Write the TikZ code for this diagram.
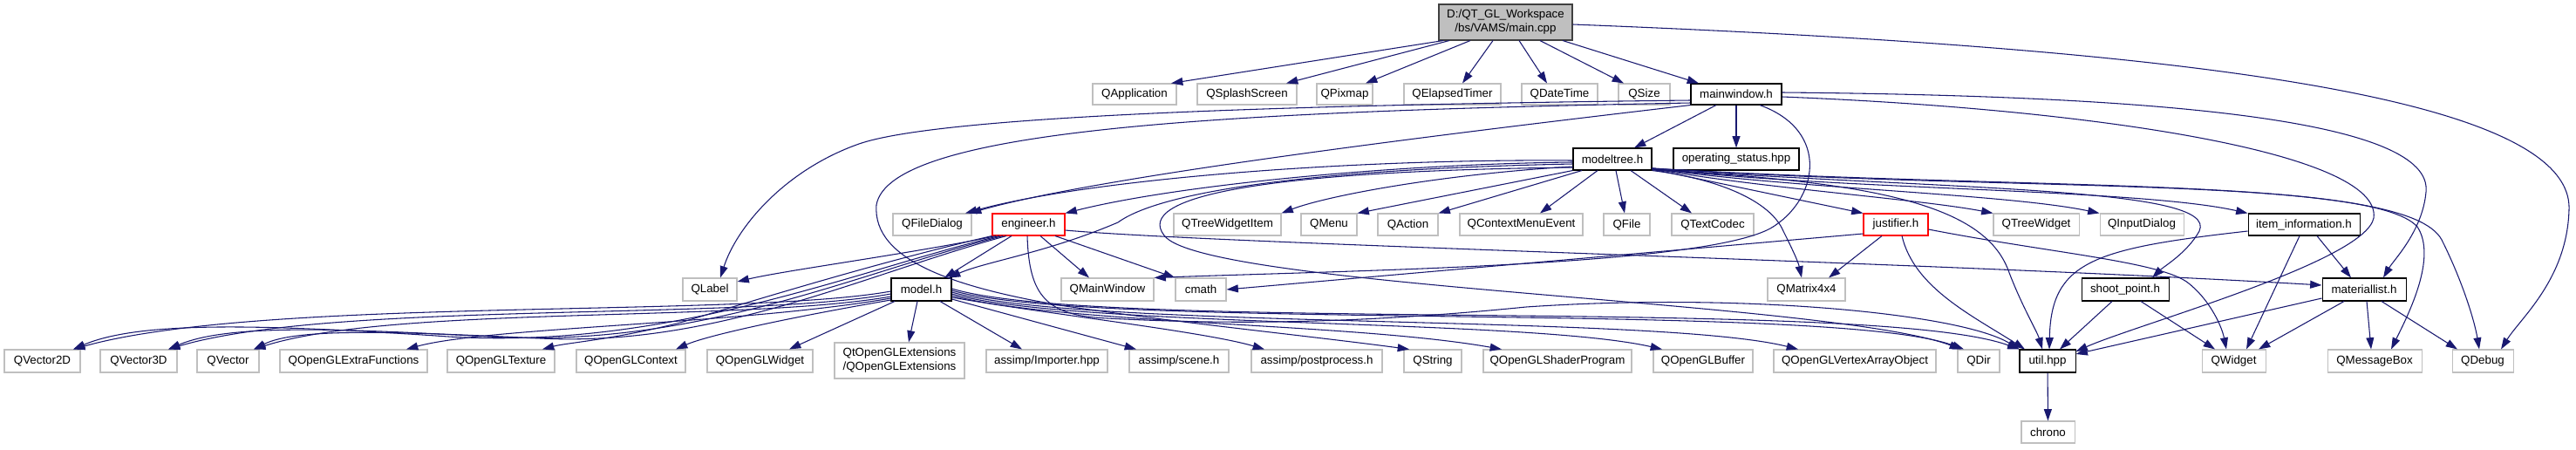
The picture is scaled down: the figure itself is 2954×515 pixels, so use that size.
\documentclass[tikz,border=0pt]{standalone}
\usepackage{fontspec}
\setmainfont{Liberation Sans}
\usetikzlibrary{arrows.meta}
\definecolor{edgeblue}{HTML}{191970}
\definecolor{extgray}{HTML}{BFBFBF}
\definecolor{rootfill}{HTML}{BFBFBF}
\definecolor{rootline}{HTML}{404040}
\newcommand\nd[7]{\node[#6,minimum width={(#3-#2)*0.75pt},minimum height={(#5-#4)*0.75pt}] (#1) at ({(#2+#3)/2},{(#4+#5)/2}) {#7};}
\tikzset{
  nBase/.style={rectangle, draw, line width=0.8pt, inner sep=0pt, fill=white, text=black, align=center, font=\fontsize{10}{12}\selectfont},
  nExt/.style={nBase, draw=extgray},
  nDoc/.style={nBase, draw=black},
  nTrunc/.style={nBase, draw=red},
  nRoot/.style={nBase, draw=rootline, fill=rootfill},
  edg/.style={draw=edgeblue, line width=0.8pt, -{Triangle[length=10pt,width=6.7pt]}}
}
\begin{document}
\begin{tikzpicture}[x=0.75pt,y=-0.75pt]
\fill[white] (0,0) rectangle (2954,515);
\useasboundingbox (0,0) rectangle (2954,515);
% nodes
\nd{main}{1650}{1803}{5}{46}{nRoot}{D:/QT\_GL\_Workspace\\/bs/VAMS/main.cpp}
\nd{qapp}{1253}{1349}{96}{120}{nExt}{QApplication}
\nd{qsplash}{1373}{1487}{96}{120}{nExt}{QSplashScreen}
\nd{qpixmap}{1510}{1574}{96}{120}{nExt}{QPixmap}
\nd{qelapsed}{1610}{1721}{96}{120}{nExt}{QElapsedTimer}
\nd{qdatetime}{1745}{1832}{96}{120}{nExt}{QDateTime}
\nd{qsize}{1856}{1915}{96}{120}{nExt}{QSize}
\nd{mainwin}{1939}{2043}{96}{120}{nDoc}{mainwindow.h}
\nd{modeltree}{1804}{1894}{170}{195}{nDoc}{modeltree.h}
\nd{opstatus}{1919}{2063}{170}{195}{nDoc}{operating\_status.hpp}
\nd{qfiledialog}{1024}{1114}{245}{270}{nExt}{QFileDialog}
\nd{engineer}{1138}{1221}{245}{270}{nTrunc}{engineer.h}
\nd{qtwi}{1346}{1469}{245}{270}{nExt}{QTreeWidgetItem}
\nd{qmenu}{1492}{1556}{245}{270}{nExt}{QMenu}
\nd{qaction}{1580}{1649}{245}{270}{nExt}{QAction}
\nd{qcme}{1674}{1815}{245}{270}{nExt}{QContextMenuEvent}
\nd{qfile}{1839}{1892}{245}{270}{nExt}{QFile}
\nd{qtextcodec}{1917}{2011}{245}{270}{nExt}{QTextCodec}
\nd{justifier}{2137}{2211}{245}{270}{nTrunc}{justifier.h}
\nd{qtreewidget}{2286}{2384}{245}{270}{nExt}{QTreeWidget}
\nd{qinputdialog}{2408}{2504}{245}{270}{nExt}{QInputDialog}
\nd{iteminfo}{2578}{2706}{245}{270}{nDoc}{item\_information.h}
\nd{qlabel}{783}{845}{319}{345}{nExt}{QLabel}
\nd{model}{1022}{1091}{319}{345}{nDoc}{model.h}
\nd{qmainwindow}{1217}{1323}{319}{345}{nExt}{QMainWindow}
\nd{cmath}{1348}{1406}{319}{345}{nExt}{cmath}
\nd{qmatrix}{2027}{2116}{319}{345}{nExt}{QMatrix4x4}
\nd{shootpoint}{2387}{2487}{319}{345}{nDoc}{shoot\_point.h}
\nd{materiallist}{2663}{2759}{319}{345}{nDoc}{materiallist.h}
\nd{qv2}{5}{92}{401}{427}{nExt}{QVector2D}
\nd{qv3}{115}{203}{401}{427}{nExt}{QVector3D}
\nd{qv}{226}{297}{401}{427}{nExt}{QVector}
\nd{qoglextra}{321}{490}{401}{427}{nExt}{QOpenGLExtraFunctions}
\nd{qogltex}{513}{636}{401}{427}{nExt}{QOpenGLTexture}
\nd{qoglctx}{661}{786}{401}{427}{nExt}{QOpenGLContext}
\nd{qoglwidget}{811}{932}{401}{427}{nExt}{QOpenGLWidget}
\nd{qtoglext}{957}{1106}{393}{434}{nExt}{QtOpenGLExtensions\\/QOpenGLExtensions}
\nd{importer}{1131}{1270}{401}{427}{nExt}{assimp/Importer.hpp}
\nd{scene}{1295}{1409}{401}{427}{nExt}{assimp/scene.h}
\nd{postproc}{1435}{1585}{401}{427}{nExt}{assimp/postprocess.h}
\nd{qstring}{1610}{1676}{401}{427}{nExt}{QString}
\nd{qoglshader}{1701}{1871}{401}{427}{nExt}{QOpenGLShaderProgram}
\nd{qoglbuffer}{1896}{2010}{401}{427}{nExt}{QOpenGLBuffer}
\nd{qoglvao}{2034}{2220}{401}{427}{nExt}{QOpenGLVertexArrayObject}
\nd{qdir}{2245}{2293}{401}{427}{nExt}{QDir}
\nd{util}{2316}{2380}{401}{427}{nDoc}{util.hpp}
\nd{qwidget}{2525}{2598}{401}{427}{nExt}{QWidget}
\nd{qmsgbox}{2669}{2777}{401}{427}{nExt}{QMessageBox}
\nd{qdebug}{2812}{2882}{401}{427}{nExt}{QDebug}
\nd{chrono}{2318}{2379}{483}{508}{nExt}{chrono}
% main.cpp
\draw[edg] (1655,0 |- main.south) -- (1343,0 |- qapp.north);
\draw[edg] (1662,0 |- main.south) -- (1475,0 |- qsplash.north);
\draw[edg] (1686,0 |- main.south) -- (1566,0 |- qpixmap.north);
\draw[edg] (1712,0 |- main.south) -- (1677,0 |- qelapsed.north);
\draw[edg] (1742,0 |- main.south) -- (1774,0 |- qdatetime.north);
\draw[edg] (1766,0 |- main.south) -- (1862,0 |- qsize.north);
\draw[edg] (1792,0 |- main.south) -- (1948,0 |- mainwin.north);
\draw[edg] (main.east |- 0,28) .. controls (2500,55) and (2950,110) .. (2946,240) .. controls (2944,320) and (2890,365) .. (2868,0 |- qdebug.north);
% mainwindow.h
\draw[edg] (1968,0 |- mainwin.south) -- (1874,0 |- modeltree.north);
\draw[edg] (1991,0 |- mainwin.south) -- (1991,0 |- opstatus.north);
\draw[edg] (mainwin.west |- 0,115) .. controls (1500,120) and (1080,132) .. (985,165) .. controls (900,195) and (845,260) .. (826,0 |- qlabel.north);
\draw[edg] (mainwin.west |- 0,118) .. controls (1400,128) and (1020,148) .. (1005,235) .. controls (1000,300) and (1100,330) .. (1215,350) .. controls (1350,370) and (1500,385) .. (1616,0 |- qstring.north);
\draw[edg] (mainwin.south west) .. controls (1600,160) and (1250,205) .. (1112,0 |- qfiledialog.north);
\draw[edg] (2018,0 |- mainwin.south) .. controls (2100,150) and (2085,230) .. (2030,262) .. controls (1950,305) and (1550,310) .. (qmainwindow.north east);
\draw[edg] (mainwin.east |- 0,106) .. controls (2500,110) and (2790,140) .. (2782,220) .. controls (2778,265) and (2745,298) .. (2733,0 |- materiallist.north);
\draw[edg] (mainwin.east |- 0,111) .. controls (2400,125) and (2732,175) .. (2722,250) .. controls (2712,300) and (2450,372) .. (util.east |- 0,403);
% modeltree.h
\draw[edg] (modeltree.west |- 0,184) .. controls (1550,182) and (1250,205) .. (1107,0 |- qfiledialog.north);
\draw[edg] (modeltree.west |- 0,186) .. controls (1600,188) and (1350,212) .. (engineer.north east);
\draw[edg] (modeltree.west |- 0,188) .. controls (1500,194) and (1330,220) .. (1282,255) .. controls (1200,290) and (1130,300) .. (1088,0 |- model.north);
\draw[edg] (modeltree.west |- 0,191) .. controls (1650,200) and (1520,225) .. (qtwi.north east);
\draw[edg] (modeltree.south west) -- (qmenu.north east);
\draw[edg] (1814,0 |- modeltree.south) -- (qaction.north east);
\draw[edg] (1832,0 |- modeltree.south) -- (1766,0 |- qcme.north);
\draw[edg] (1853,0 |- modeltree.south) -- (1863,0 |- qfile.north);
\draw[edg] (1870,0 |- modeltree.south) -- (1940,0 |- qtextcodec.north);
\draw[edg] (modeltree.east |- 0,194) -- (justifier.north west);
\draw[edg] (modeltree.east |- 0,193) .. controls (2000,214) and (2200,228) .. (qtreewidget.north west);
\draw[edg] (modeltree.east |- 0,193) .. controls (2050,216) and (2300,222) .. (qinputdialog.north west);
\draw[edg] (modeltree.east |- 0,193) .. controls (2100,218) and (2450,216) .. (iteminfo.north west);
\draw[edg] (modeltree.east |- 0,194) .. controls (2250,218) and (2545,215) .. (2522,265) .. controls (2508,290) and (2482,305) .. (2468,0 |- shootpoint.north);
\draw[edg] (modeltree.east |- 0,195) .. controls (2150,208) and (2275,235) .. (2303,310) .. controls (2318,350) and (2336,380) .. (2342,0 |- util.north);
\draw[edg] (modeltree.east |- 0,193) .. controls (2300,220) and (2720,202) .. (2772,260) .. controls (2795,295) and (2762,360) .. (2742,0 |- qmsgbox.north);
\draw[edg] (modeltree.east |- 0,193) .. controls (2350,220) and (2760,200) .. (2800,275) .. controls (2825,325) and (2838,370) .. (2843,0 |- qdebug.north);
\draw[edg] (modeltree.south east) .. controls (1970,205) and (2030,230) .. (2045,265) .. controls (2055,285) and (2062,300) .. (2066,0 |- qmatrix.north);
\draw[edg] (modeltree.west |- 0,192) .. controls (1450,196) and (1300,225) .. (1335,270) .. controls (1380,330) and (2100,345) .. (2249,0 |- qdir.north);
% engineer.h
\draw[edg] (1160,0 |- engineer.south) -- (1083,0 |- model.north);
\draw[edg] (1193,0 |- engineer.south) -- (1249,0 |- qmainwindow.north);
\draw[edg] (1210,0 |- engineer.south) -- (cmath.north west);
\draw[edg] (engineer.east |- 0,264) .. controls (1400,280) and (2200,300) .. (materiallist.west |- 0,327);
\draw[edg] (1178,0 |- engineer.south) .. controls (1180,340) and (1200,362) .. (1270,365) .. controls (1400,372) and (1550,372) .. (1750,352) .. controls (2000,335) and (2250,360) .. (util.north west);
\draw[edg] (1142,0 |- engineer.south) .. controls (1050,290) and (900,310) .. (qlabel.east |- 0,323);
\draw[edg] (1146,0 |- engineer.south) .. controls (980,310) and (760,405) .. (500,385) .. controls (300,372) and (160,368) .. (84,0 |- qv2.north);
\draw[edg] (1150,0 |- engineer.south) .. controls (985,312) and (800,400) .. (560,386) .. controls (380,376) and (260,372) .. (193,0 |- qv3.north);
\draw[edg] (1154,0 |- engineer.south) .. controls (990,315) and (820,398) .. (620,388) .. controls (450,380) and (340,376) .. (291,0 |- qv.north);
\draw[edg] (engineer.south west) .. controls (1010,300) and (880,340) .. (780,370) .. controls (700,390) and (650,393) .. (622,0 |- qogltex.north);
% model.h
\draw[edg] (model.west |- 0,334) .. controls (850,365) and (300,340) .. (84,0 |- qv2.north);
\draw[edg] (model.west |- 0,337) .. controls (850,368) and (380,345) .. (193,0 |- qv3.north);
\draw[edg] (model.west |- 0,340) .. controls (850,370) and (450,350) .. (291,0 |- qv.north);
\draw[edg] (model.west |- 0,342) .. controls (850,372) and (560,375) .. (466,0 |- qoglextra.north);
\draw[edg] (model.west |- 0,344) .. controls (900,365) and (810,385) .. (775,0 |- qoglctx.north);
\draw[edg] (1026,0 |- model.south) -- (905,0 |- qoglwidget.north);
\draw[edg] (1052,0 |- model.south) -- (1042,0 |- qtoglext.north);
\draw[edg] (1078,0 |- model.south) -- (1172,0 |- importer.north);
\draw[edg] (model.east |- 0,343) -- (1303,0 |- scene.north);
\draw[edg] (model.east |- 0,341) .. controls (1200,360) and (1380,380) .. (1450,0 |- postproc.north);
\draw[edg] (model.east |- 0,339) .. controls (1220,372) and (1550,370) .. (1722,0 |- qoglshader.north);
\draw[edg] (model.east |- 0,337) .. controls (1230,376) and (1750,365) .. (1906,0 |- qoglbuffer.north);
\draw[edg] (model.east |- 0,335) .. controls (1240,378) and (1900,360) .. (2062,0 |- qoglvao.north);
\draw[edg] (model.east |- 0,333) .. controls (1250,380) and (2100,345) .. (2252,0 |- qdir.north);
\draw[edg] (model.east |- 0,331) .. controls (1260,382) and (2150,340) .. (util.north west);
% justifier.h
\draw[edg] (2158,0 |- justifier.south) -- (2097,0 |- qmatrix.north);
\draw[edg] (2181,0 |- justifier.south) .. controls (2195,330) and (2262,362) .. (2322,0 |- util.north);
\draw[edg] (justifier.east |- 0,263) .. controls (2350,290) and (2480,300) .. (2510,325) .. controls (2535,345) and (2548,375) .. (2553,0 |- qwidget.north);
\draw[edg] (justifier.west |- 0,268) -- (cmath.east |- 0,332);
% shoot_point.h
\draw[edg] (2422,0 |- shootpoint.south) -- (2362,0 |- util.north);
\draw[edg] (2455,0 |- shootpoint.south) -- (2540,0 |- qwidget.north);
% item_information.h
\draw[edg] (iteminfo.west |- 0,265) .. controls (2400,285) and (2352,300) .. (2350,0 |- util.north);
\draw[edg] (2637,0 |- iteminfo.south) -- (2576,0 |- qwidget.north);
\draw[edg] (2657,0 |- iteminfo.south) -- (2696,0 |- materiallist.north);
% materiallist.h
\draw[edg] (materiallist.west |- 0,342) -- (util.east |- 0,406);
\draw[edg] (2688,0 |- materiallist.south) -- (2590,0 |- qwidget.north);
\draw[edg] (2714,0 |- materiallist.south) -- (2719,0 |- qmsgbox.north);
\draw[edg] (2731,0 |- materiallist.south) -- (2818,0 |- qdebug.north);
% util.hpp
\draw[edg] (util) -- (chrono);
\end{tikzpicture}
\end{document}
